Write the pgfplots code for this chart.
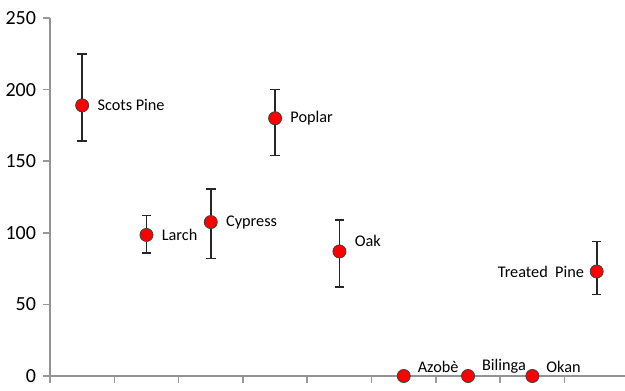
\documentclass[border=0pt]{standalone}
\usepackage{pgfplots}
\usepackage{pgfplotstable}
\pgfplotsset{compat=1.18}
\usepackage{fontspec}
\setmainfont{Carlito}

% wood species: mean with asymmetric spread
\pgfplotstableread{
x y ep em
1 189 36 25
2 98.5 13.5 12.5
3 107.5 23 25.5
4 180 20 26
5 87 22 25
9 73 21 16
}\withspread
\pgfplotstableread{
x y
6 0
7 0
8 0
}\zeros

\begin{document}
\begin{tikzpicture}
\begin{axis}[
  at={(0,0)}, anchor=south west,
  scale only axis,
  width=431.25pt, height=268.5pt,
  xmin=0.5, xmax=9.44,
  ymin=0, ymax=250,
  axis lines*=left,
  axis line style={draw=gray!85, line width=1.1pt},
  xtick={0.5,1.5,2.5,3.5,4.5,5.5,6.5,7.5,8.5},
  xticklabels={},
  ytick={0,50,...,250},
  tick align=outside,
  major tick length=5pt,
  tick style={draw=gray!80, line width=1.2pt},
  yticklabel style={font=\fontsize{15}{15}\selectfont, xshift=-2pt},
  /pgf/number format/assume math mode=true,
  clip=false,
]
\addplot[only marks, mark=*, mark size=4.9pt,
  mark options={fill=red, draw=black!75, line width=0.6pt},
  error bars/.cd, y dir=both, y explicit,
  error bar style={line width=1.3pt, black!85},
  error mark options={rotate=90, mark size=3.6pt, line width=1.3pt, black!85}]
  table[x=x, y=y, y error plus=ep, y error minus=em]{\withspread};
\addplot[only marks, mark=*, mark size=4.9pt,
  mark options={fill=red, draw=black!75, line width=0.6pt}]
  table[x=x, y=y]{\zeros};

\begin{scope}[every node/.style={font=\fontsize{12.2}{13}\selectfont}]
\node[anchor=west, xshift=8pt] at (axis cs:1,189) {Scots Pine};
\node[anchor=west, xshift=8pt] at (axis cs:2,98.5) {Larch};
\node[anchor=west, xshift=8pt] at (axis cs:3,107.5) {Cypress};
\node[anchor=west, xshift=8pt] at (axis cs:4,180) {Poplar};
\node[anchor=west, xshift=8pt] at (axis cs:5,94) {Oak};
\node[anchor=east, xshift=-6pt] at (axis cs:9,73) {Treated\ \ Pine};
\node[anchor=west, xshift=7pt] at (axis cs:6,6.5) {Azobè};
\node[anchor=west, xshift=7pt] at (axis cs:7,6.5) {Bilinga};
\node[anchor=west, xshift=7pt] at (axis cs:8,6.5) {Okan};
\end{scope}
\end{axis}
\pgfresetboundingbox
\path[use as bounding box] (-37.5pt,-10.5pt) rectangle (431.25pt,282pt);
\end{tikzpicture}
\end{document}
